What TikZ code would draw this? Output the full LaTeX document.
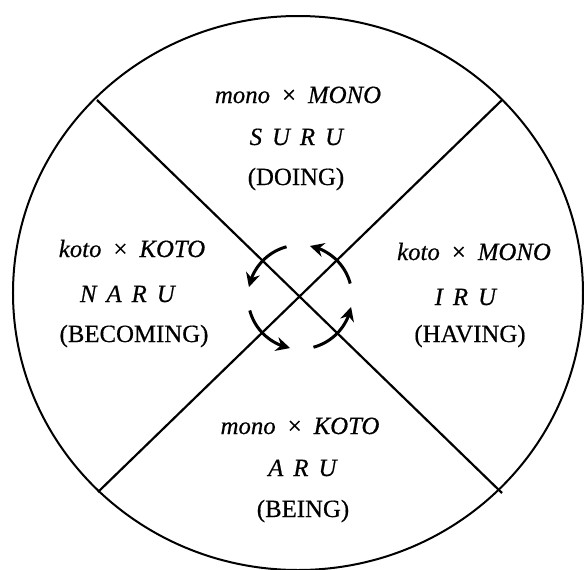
\documentclass[tikz,border=0pt]{standalone}
\usepackage{fontspec}
\setmainfont{Liberation Serif}[FakeBold=0.5]
\usetikzlibrary{arrows.meta,bending}
\newcommand{\lsp}{\hspace{5pt}}
\newcommand{\pairof}[2]{\textit{#1}\hspace{6pt}×\hspace{6pt}\textit{#2}}

\begin{document}
\begin{tikzpicture}[
  x=0.5pt, y=0.5pt,
  rim/.style  ={line width=1pt},
  cut/.style  ={line width=1.1pt},
  turn/.style ={line width=1.5pt,-{Stealth[length=7pt,width=7pt]}},
  txt/.style  ={anchor=base,inner sep=0pt,font=\fontsize{12.4}{14}\selectfont}
]
\useasboundingbox (-300,-272) rectangle (284,297);

%% outer rim and the two diagonals
\draw[rim] (-2,4) ellipse [x radius=285, y radius=277];
\coordinate (ul) at (-203, 197);
\coordinate (ur) at ( 202, 197);
\coordinate (ll) at (-202,-195);
\coordinate (lr) at ( 202,-196);
\coordinate (hub) at (0,0);
\draw[cut] (ul) -- (lr);
\draw[cut] (ur) -- (ll);

%% top: doing
\node[txt] (mm)  at (-2, 194) {\pairof{mono}{MONO}};
\node[txt] (suru) at (-3, 152) {\textit{S\lsp U\lsp R\lsp U}};
\node[txt] (doing) at (-4, 112) {(DOING)};

%% left: becoming
\node[txt] (kk)  at (-168, 40) {\pairof{koto}{KOTO}};
\node[txt] (naru) at (-172, -5) {\textit{N\lsp A\lsp R\lsp U}};
\node[txt] (becoming) at (-166,-45) {(BECOMING)};

%% right: having
\node[txt] (km)  at (174, 37) {\pairof{koto}{MONO}};
\node[txt] (iru) at (166, -8) {\textit{I\lsp R\lsp U}};
\node[txt] (having) at (170,-45) {(HAVING)};

%% bottom: being
\node[txt] (mk)  at (0,-137) {\pairof{mono}{KOTO}};
\node[txt] (aru) at (3,-179) {\textit{A\lsp R\lsp U}};
\node[txt] (being) at (3,-220) {(BEING)};

%% the turning arrows round the crossing
\foreach \a in {15,105,195,285}
  \draw[turn] ([shift={(\a:52)}]hub) arc[start angle=\a, end angle=\a+64, radius=52];

\end{tikzpicture}
\end{document}
